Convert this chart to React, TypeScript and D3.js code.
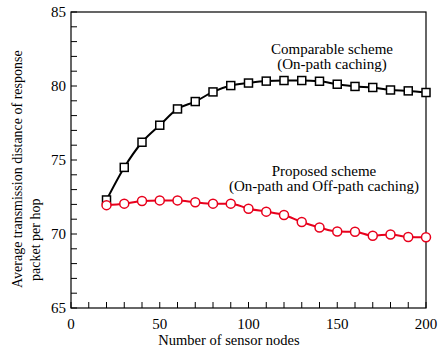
import * as d3 from "d3";
import React, { useEffect, useRef } from "react";

const nodes = [20, 30, 40, 50, 60, 70, 80, 90, 100, 110, 120, 130, 140, 150, 160, 170, 180, 190, 200];
const comparable = [72.3, 74.5, 76.2, 77.35, 78.45, 78.95, 79.6, 80.03, 80.2, 80.33, 80.37, 80.37, 80.32, 80.12, 79.97, 79.9, 79.73, 79.67, 79.56];
const proposed = [71.95, 72.05, 72.23, 72.27, 72.27, 72.14, 72.05, 72.05, 71.71, 71.51, 71.28, 70.81, 70.44, 70.17, 70.15, 69.88, 69.97, 69.8, 69.78];
const xTickLabels = [0, 50, 100, 150, 200];
const yTickLabels = [65, 70, 75, 80, 85];

const FONT = "Liberation Serif";

const App: React.FC = () => {
  const svgRef = useRef<SVGSVGElement | null>(null);

  useEffect(() => {
    const width = 444;
    const height = 354;
    const margin = { top: 12, right: 18, bottom: 46, left: 71 };
    const w = width - margin.left - margin.right;
    const h = height - margin.top - margin.bottom;

    const svg = d3.select(svgRef.current);
    svg.selectAll("*").remove();
    svg.attr("width", width).attr("height", height);

    const g = svg.append("g").attr("transform", `translate(${margin.left},${margin.top})`);

    const x = d3.scaleLinear().domain([0, 200]).range([0, w]);
    const y = d3.scaleLinear().domain([65, 85]).range([h, 0]);

    // frame
    g.append("rect")
      .attr("width", w)
      .attr("height", h)
      .attr("fill", "none")
      .attr("stroke", "#000")
      .attr("stroke-width", 1.2);

    // inward ticks
    g.append("g")
      .selectAll("line")
      .data(d3.range(0, 201, 10))
      .enter()
      .append("line")
      .attr("x1", (d) => x(d))
      .attr("x2", (d) => x(d))
      .attr("y1", h)
      .attr("y2", h - 6)
      .attr("stroke", "#000");

    g.append("g")
      .selectAll("line")
      .data(d3.range(65, 86, 1))
      .enter()
      .append("line")
      .attr("x1", 0)
      .attr("x2", 6)
      .attr("y1", (d) => y(d))
      .attr("y2", (d) => y(d))
      .attr("stroke", "#000");

    // tick labels
    g.append("g")
      .selectAll("text")
      .data(xTickLabels)
      .enter()
      .append("text")
      .attr("font-family", FONT)
      .attr("x", (d) => x(d))
      .attr("y", h + 21)
      .attr("text-anchor", "middle")
      .attr("font-size", 15)
      .text((d) => d);

    g.append("g")
      .selectAll("text")
      .data(yTickLabels)
      .enter()
      .append("text")
      .attr("font-family", FONT)
      .attr("x", -5)
      .attr("y", (d) => y(d))
      .attr("dy", "0.32em")
      .attr("text-anchor", "end")
      .attr("font-size", 15)
      .text((d) => d);

    // axis titles
    svg.append("text")
      .attr("font-family", FONT)
      .attr("x", 229)
      .attr("y", 345)
      .attr("text-anchor", "middle")
      .attr("font-size", 14.5)
      .text("Number of sensor nodes");

    const yTitle = svg.append("text")
      .attr("font-family", FONT)
      .attr("transform", "rotate(-90)")
      .attr("font-size", 14)
      .attr("text-anchor", "start");
    yTitle.append("tspan").attr("x", -288).attr("y", 21.5).text("Average transmission distance of response");
    yTitle.append("tspan").attr("x", -281).attr("y", 40).text("packet per hop");

    const line = d3
      .line<number>()
      .x((_, i) => x(nodes[i]))
      .y((d) => y(d))
      .curve(d3.curveMonotoneX);

    // comparable scheme
    g.append("path")
      .attr("d", line(comparable)!)
      .attr("fill", "none")
      .attr("stroke", "#000")
      .attr("stroke-width", 2);

    g.append("g")
      .selectAll("rect")
      .data(comparable)
      .enter()
      .append("rect")
      .attr("x", (_, i) => x(nodes[i]) - 4)
      .attr("y", (d) => y(d) - 4)
      .attr("width", 8)
      .attr("height", 8)
      .attr("fill", "#fff")
      .attr("stroke", "#000")
      .attr("stroke-width", 1.5);

    // proposed scheme
    g.append("path")
      .attr("d", line(proposed)!)
      .attr("fill", "none")
      .attr("stroke", "#e8001c")
      .attr("stroke-width", 2);

    g.append("g")
      .selectAll("circle")
      .data(proposed)
      .enter()
      .append("circle")
      .attr("cx", (_, i) => x(nodes[i]))
      .attr("cy", (d) => y(d))
      .attr("r", 4.5)
      .attr("fill", "#fff")
      .attr("stroke", "#e8001c")
      .attr("stroke-width", 1.5);

    // annotations
    const note = (cx: number, cy: number, lines: string[]) => {
      lines.forEach((t, i) =>
        svg.append("text")
          .attr("font-family", FONT)
          .attr("x", cx)
          .attr("y", cy + i * 15)
          .attr("text-anchor", "middle")
          .attr("font-size", 15)
          .text(t),
      );
    };
    note(332, 54, ["Comparable scheme", "(On-path caching)"]);
    note(324, 175.5, ["Proposed scheme", "(On-path and Off-path caching)"]);
  }, []);

  return <svg ref={svgRef} style={{ display: "block", position: "absolute", left: 0, top: 0 }}></svg>;
};

export default App;
